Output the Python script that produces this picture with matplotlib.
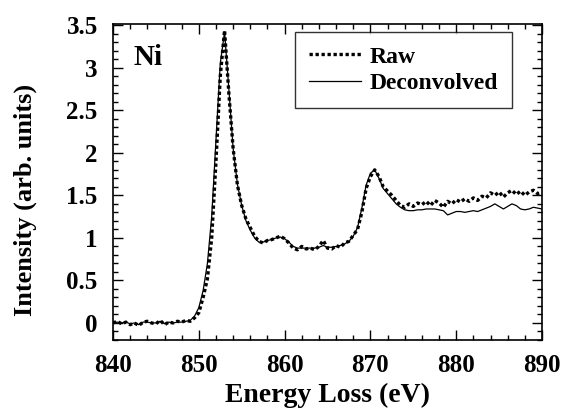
import numpy as np
import matplotlib
matplotlib.use('Agg')
import matplotlib.pyplot as plt
from matplotlib.ticker import MultipleLocator

plt.rcParams['font.family'] = ['Liberation Serif', 'DejaVu Serif']
plt.rcParams['font.weight'] = 'bold'

# energy grid (eV), 0.5 eV steps
energy = np.arange(840.0, 890.01, 0.5)

raw = [0.00, 0.02, -0.01, 0.01, -0.02, 0.00, -0.03, 0.01, 0.02, 0.00,
       -0.01, 0.03, -0.02, 0.01, 0.00, 0.02, 0.01, 0.03, 0.02, 0.06,
       0.12, 0.30, 0.52, 1.00, 1.90, 2.90, 3.44, 2.70, 2.05, 1.62,
       1.38, 1.22, 1.12, 1.02, 0.96, 0.94, 0.97, 0.98, 1.00, 1.02,
       0.99, 0.94, 0.88, 0.86, 0.90, 0.87, 0.88, 0.86, 0.90, 0.97,
       0.88, 0.87, 0.91, 0.89, 0.94, 0.96, 1.03, 1.10, 1.30, 1.58,
       1.72, 1.80, 1.72, 1.60, 1.55, 1.50, 1.44, 1.38, 1.36, 1.40,
       1.37, 1.41, 1.39, 1.43, 1.38, 1.44, 1.41, 1.36, 1.43, 1.40,
       1.45, 1.42, 1.46, 1.43, 1.47, 1.44, 1.49, 1.47, 1.53, 1.50,
       1.54, 1.48, 1.53, 1.56, 1.51, 1.55, 1.50, 1.54, 1.56, 1.52,
       1.53]

deconv = [0.00, 0.01, 0.00, 0.01, -0.01, 0.00, -0.02, 0.01, 0.01, 0.00,
          0.00, 0.02, -0.01, 0.01, 0.00, 0.01, 0.01, 0.02, 0.03, 0.08,
          0.18, 0.38, 0.70, 1.25, 2.15, 3.05, 3.42, 2.75, 2.05, 1.63,
          1.38, 1.20, 1.09, 1.00, 0.95, 0.95, 0.97, 0.98, 1.00, 1.01,
          0.99, 0.95, 0.90, 0.88, 0.88, 0.88, 0.88, 0.88, 0.89, 0.91,
          0.89, 0.89, 0.90, 0.91, 0.93, 0.96, 1.02, 1.12, 1.35, 1.62,
          1.76, 1.80, 1.70, 1.58, 1.52, 1.46, 1.40, 1.36, 1.33, 1.32,
          1.32, 1.33, 1.33, 1.34, 1.34, 1.34, 1.33, 1.32, 1.27, 1.29,
          1.31, 1.31, 1.30, 1.31, 1.32, 1.31, 1.33, 1.35, 1.37, 1.40,
          1.37, 1.34, 1.37, 1.40, 1.38, 1.34, 1.33, 1.34, 1.36, 1.35,
          1.34]

yticks = [0, 0.5, 1, 1.5, 2, 2.5, 3, 3.5]
ytick_labels = ['0', '0.5', '1', '1.5', '2', '2.5', '3', '3.5']

fig = plt.figure(figsize=(5.64, 4.08), dpi=100)
ax = fig.add_axes([0.2004, 0.1667, 0.7606, 0.7757])

ax.plot(energy, raw, color='black', linestyle=(0, (1, 0.8)), linewidth=2.4, label='Raw')
ax.plot(energy, deconv, color='black', linestyle='-', linewidth=0.9, label='Deconvolved')

ax.set_xlim(840, 890)
ax.set_ylim(-0.2, 3.52)
ax.xaxis.set_major_locator(MultipleLocator(10))
ax.xaxis.set_minor_locator(MultipleLocator(2))
ax.yaxis.set_minor_locator(MultipleLocator(0.1))
ax.set_yticks(yticks)
ax.set_yticklabels(ytick_labels)
ax.tick_params(which='both', direction='in', top=True, right=True, labelsize=18, width=1)
ax.tick_params(which='major', length=7)
ax.tick_params(axis='x', which='major', pad=10)
ax.tick_params(axis='y', which='major', pad=11)
ax.tick_params(which='minor', length=3.5)
for s in ax.spines.values():
    s.set_linewidth(1.2)

ax.set_xlabel('Energy Loss (eV)', fontsize=20, fontweight='bold', labelpad=4)
ax.set_ylabel('Intensity (arb. units)', fontsize=19, fontweight='bold')
ax.yaxis.set_label_coords(-0.178, 0.442)
ax.text(0.047, 0.935, 'Ni', transform=ax.transAxes, fontsize=21, fontweight='bold', va='top')

leg = ax.legend(loc='upper right', bbox_to_anchor=(0.93, 0.973), fontsize=17,
                frameon=True, fancybox=False, edgecolor='black', handlelength=2.2,
                borderpad=0.6, labelspacing=0.2, handletextpad=0.35, borderaxespad=0)
leg.get_frame().set_linewidth(1.0)
for t in leg.get_texts():
    t.set_fontweight('bold')

fig.savefig('out.png', dpi=100)
